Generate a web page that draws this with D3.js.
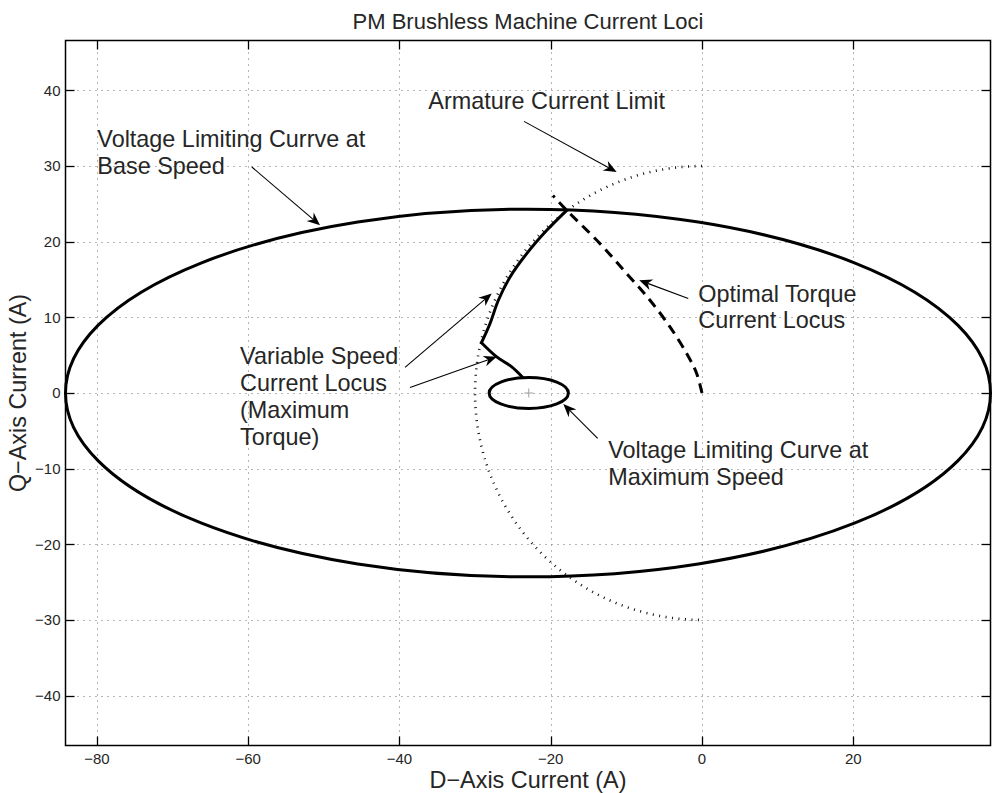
<!DOCTYPE html>
<html>
<head>
<meta charset="utf-8">
<script src="https://cdn.jsdelivr.net/npm/d3@7"></script>
<style>
  html, body { margin: 0; padding: 0; background: #fff; }
  svg { display: block; }
  text { font-family: "Liberation Sans", Arial, Helvetica, sans-serif; fill: #262626; }
</style>
</head>
<body>
<svg id="chart" width="993" height="793"></svg>
<script>
// Axis limits (axis equal, tight around the base-speed voltage ellipse)
const xDomain = [-84.15, 38.15];
const yDomain = [-46.6, 46.6];
const xTicks = [-80, -60, -40, -20, 0, 20];
const yTicks = [-40, -30, -20, -10, 0, 10, 20, 30, 40];

// Voltage limiting ellipses: centre (d, q) and semi-axes (d, q), in amperes
const baseSpeedEllipse = [-23, 0, 61.15, 24.3];
const maxSpeedEllipse = [-22.9, 0, 5.24, 2.05];

// Armature current limit (circle radius, A) – left half drawn
const currentLimit = 30;

// Optimal (maximum torque per ampere) current locus
const mtpaD = [0, -0.70, -2.02, -4.23, -6.87, -9.95, -13.48, -17.88, -19.7];
const mtpaQ = [0, 2.58, 5.22, 8.74, 12.26, 15.79, 19.75, 24.15, 26.1];

// Variable speed current locus: along the current limit, then toward the max-speed ellipse
const limitArcD = [-17.88, -20.52, -23.17, -25.37, -26.92, -28.02, -29.15];
const limitArcQ = [24.15, 21.51, 18.43, 15.34, 12.26, 9.19, 6.65];
const fluxWeakD = [-29.15, -27.13, -25.15, -23.69];
const fluxWeakQ = [6.65, 4.77, 3.45, 2.05];

// Annotation texts, their anchor (data units) and arrows [tailD, tailQ, tipD, tipQ]
const labelLines = [
  ["Voltage Limiting Currve at", "Base Speed"],
  ["Armature Current Limit"],
  ["Optimal Torque", "Current Locus"],
  ["Variable Speed", "Current Locus", "(Maximum", "Torque)"],
  ["Voltage Limiting Curve at", "Maximum Speed"]
];
const labelAnchors = [[-79.94, 32.52], [-36.18, 37.5], [-0.49, 12.07], [-61.07, 3.82], [-12.39, -8.64]];
const arrows = [
  [-59.52, 29.88, -50.5, 22.18],
  [-23.53, 35.91, -11.28, 29.22],
  [-1.81, 12.49, -8.29, 14.91],
  [-39.26, 3.38, -27.80, 13.16],
  [-38.60, 0.74, -27.14, 4.78],
  [-13.79, -6.0, -18.33, -1.47]
];

const titleText = "PM Brushless Machine Current Loci";
const xLabel = "D\u2212Axis Current (A)";
const yLabel = "Q\u2212Axis Current (A)";

// ---- layout ----
const plot = { left: 65.5, top: 40.5, right: 990.5, bottom: 745.5 };
const svg = d3.select("#chart");

const x = d3.scaleLinear().domain(xDomain).range([plot.left, plot.right]);
const y = d3.scaleLinear().domain(yDomain).range([plot.bottom, plot.top]);
const fmt = v => (v < 0 ? "\u2212" + Math.abs(v) : String(v));

// grid
const grid = svg.append("g")
  .attr("stroke", "#6e6e6e").attr("stroke-width", 1).attr("stroke-dasharray", "1 5");
grid.selectAll("line.gx").data(xTicks).join("line")
  .attr("x1", d => Math.round(x(d)) + 0.5).attr("x2", d => Math.round(x(d)) + 0.5)
  .attr("y1", plot.top).attr("y2", plot.bottom);
grid.selectAll("line.gy").data(yTicks).join("line")
  .attr("y1", d => Math.round(y(d)) + 0.5).attr("y2", d => Math.round(y(d)) + 0.5)
  .attr("x1", plot.left).attr("x2", plot.right);

// armature current limit (dotted left half-circle)
const rx = x(currentLimit) - x(0), ry = y(0) - y(currentLimit);
svg.append("path")
  .attr("d", `M${x(0)},${y(currentLimit)} A${rx},${ry} 0 0 0 ${x(0)},${y(-currentLimit)}`)
  .attr("fill", "none").attr("stroke", "#111").attr("stroke-width", 2.6)
  .attr("stroke-dasharray", "1 5.5");

// voltage limiting ellipses
[baseSpeedEllipse, maxSpeedEllipse].forEach(e => {
  svg.append("ellipse")
    .attr("cx", x(e[0])).attr("cy", y(e[1]))
    .attr("rx", x(e[2]) - x(0)).attr("ry", y(0) - y(e[3]))
    .attr("fill", "none").attr("stroke", "#000").attr("stroke-width", 3);
});

const line = d3.line().x(d => x(d[0])).y(d => y(d[1])).curve(d3.curveCatmullRom.alpha(0.5));
const zip = (a, b) => a.map((v, i) => [v, b[i]]);

// optimal torque locus (dashed)
svg.append("path").attr("d", line(zip(mtpaD, mtpaQ)))
  .attr("fill", "none").attr("stroke", "#000").attr("stroke-width", 3)
  .attr("stroke-dasharray", "10 6.5");

// variable speed locus (solid)
[zip(limitArcD, limitArcQ), zip(fluxWeakD, fluxWeakQ)].forEach(pts => {
  svg.append("path").attr("d", line(pts))
    .attr("fill", "none").attr("stroke", "#000").attr("stroke-width", 3)
    .attr("stroke-linejoin", "round").attr("stroke-linecap", "round");
});

// centre marker of the max-speed ellipse
const cxm = x(maxSpeedEllipse[0]), cym = y(maxSpeedEllipse[1]);
svg.append("path")
  .attr("d", `M${cxm - 4.5},${cym}H${cxm + 4.5}M${cxm},${cym - 4.5}V${cym + 4.5}`)
  .attr("stroke", "#a0a0a0").attr("stroke-width", 1);

// box and ticks
svg.append("rect")
  .attr("x", plot.left).attr("y", plot.top)
  .attr("width", plot.right - plot.left).attr("height", plot.bottom - plot.top)
  .attr("fill", "none").attr("stroke", "#000").attr("stroke-width", 1.5);
const tickLen = 9;
const ticks = svg.append("g").attr("stroke", "#000").attr("stroke-width", 1.3);
xTicks.forEach(v => {
  const px = Math.round(x(v)) + 0.5;
  ticks.append("line").attr("x1", px).attr("x2", px).attr("y1", plot.bottom).attr("y2", plot.bottom - tickLen);
  ticks.append("line").attr("x1", px).attr("x2", px).attr("y1", plot.top).attr("y2", plot.top + tickLen);
});
yTicks.forEach(v => {
  const py = Math.round(y(v)) + 0.5;
  ticks.append("line").attr("y1", py).attr("y2", py).attr("x1", plot.left).attr("x2", plot.left + tickLen);
  ticks.append("line").attr("y1", py).attr("y2", py).attr("x1", plot.right).attr("x2", plot.right - tickLen);
});

// tick labels
svg.append("g").selectAll("text").data(xTicks).join("text")
  .attr("x", d => x(d)).attr("y", 764)
  .attr("text-anchor", "middle").attr("font-size", 15).text(fmt);
svg.append("g").selectAll("text").data(yTicks).join("text")
  .attr("x", 60.5).attr("y", d => y(d)).attr("dy", "0.36em")
  .attr("text-anchor", "end").attr("font-size", 15).text(fmt);

// title and axis labels
svg.append("text").attr("x", (plot.left + plot.right) / 2).attr("y", 29)
  .attr("text-anchor", "middle").attr("font-size", 22).text(titleText);
svg.append("text").attr("x", (plot.left + plot.right) / 2).attr("y", 788)
  .attr("text-anchor", "middle").attr("font-size", 23.4).text(xLabel);
svg.append("text")
  .attr("transform", `translate(26,${(plot.top + plot.bottom) / 2}) rotate(-90)`)
  .attr("text-anchor", "middle").attr("font-size", 23.4).text(yLabel);

// annotation arrows
arrows.forEach(a => {
  const x0 = x(a[0]), y0 = y(a[1]), x1 = x(a[2]), y1 = y(a[3]);
  const len = Math.hypot(x1 - x0, y1 - y0);
  const ux = (x1 - x0) / len, uy = (y1 - y0) / len;
  const nx = -uy, ny = ux;
  const L = 13, W = 5.5, N = 9;
  svg.append("line")
    .attr("x1", x0).attr("y1", y0).attr("x2", x1 - ux * N).attr("y2", y1 - uy * N)
    .attr("stroke", "#000").attr("stroke-width", 1.1);
  svg.append("path")
    .attr("d", `M${x1},${y1}L${x1 - ux * L + nx * W},${y1 - uy * L + ny * W}` +
      `L${x1 - ux * N},${y1 - uy * N}L${x1 - ux * L - nx * W},${y1 - uy * L - ny * W}Z`)
    .attr("fill", "#000");
});

// annotation texts
labelLines.forEach((lines, i) => {
  const t = svg.append("text")
    .attr("x", x(labelAnchors[i][0])).attr("y", y(labelAnchors[i][1]))
    .attr("font-size", 23.4);
  lines.forEach((s, j) => {
    t.append("tspan").attr("x", x(labelAnchors[i][0])).attr("dy", j === 0 ? 0 : 26.8).text(s);
  });
});
</script>
</body>
</html>
